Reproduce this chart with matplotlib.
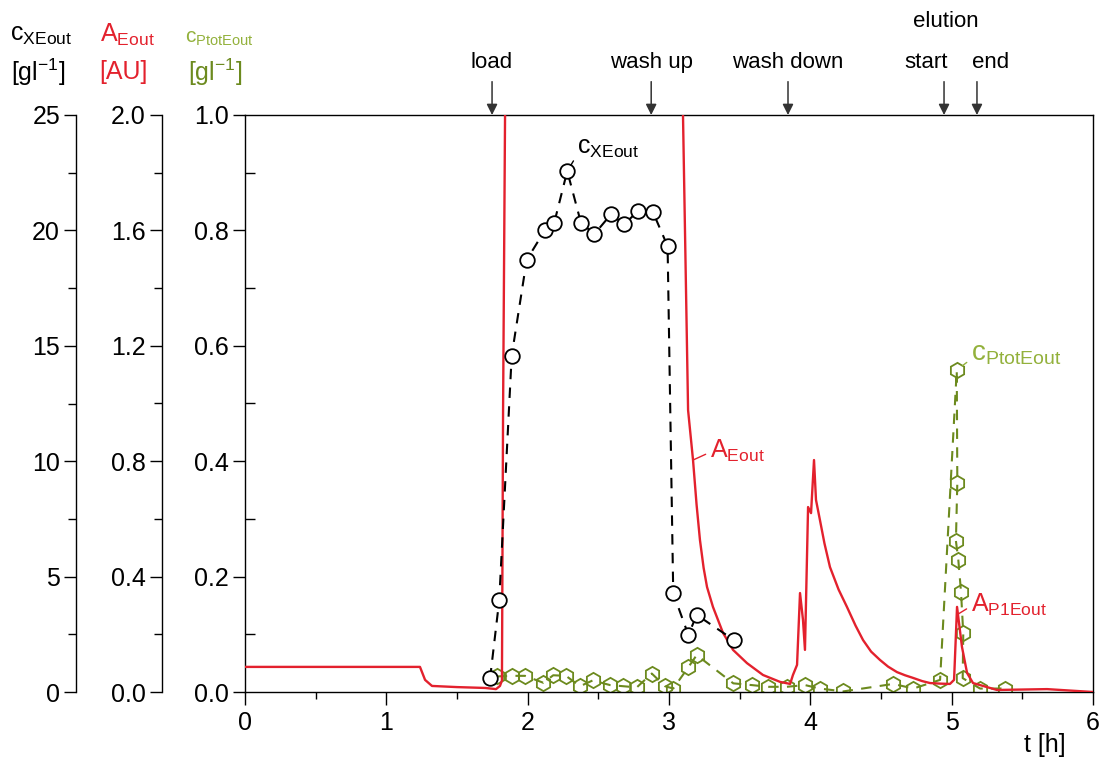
import matplotlib
matplotlib.use("Agg")
import matplotlib.pyplot as plt
from matplotlib.ticker import MultipleLocator, FormatStrFormatter
from matplotlib.transforms import blended_transform_factory

plt.rcParams['font.family'] = ['Liberation Sans', 'DejaVu Sans']
plt.rcParams['mathtext.default'] = 'regular'

# ── Colours ───────────────────────────────────────────────
RED       = '#e3212d'
GREEN     = '#6c8a1e'
GREEN_TXT = '#93b13c'
ARROW     = '#333333'

# ── Data ──────────────────────────────────────────────────
# UV absorbance at column outlet, A_Eout [AU]
t_A = [0.0, 1.238, 1.274, 1.323, 1.50, 1.70, 1.776, 1.804, 1.818, 1.826,
       1.840, 1.850, 3.090, 3.099, 3.135, 3.170, 3.195, 3.219, 3.245,
       3.269, 3.311, 3.382, 3.453, 3.552, 3.665, 3.786, 3.857, 3.877,
       3.906, 3.927, 3.948, 3.962, 3.984, 4.005, 4.026, 4.040, 4.068,
       4.100, 4.139, 4.200, 4.259, 4.320, 4.373, 4.430, 4.493, 4.550,
       4.613, 4.670, 4.726, 4.790, 4.847, 4.920, 4.988, 5.017, 5.038,
       5.073, 5.109, 5.151, 5.321, 5.675, 6.0]
A_Eout = [0.087, 0.087, 0.042, 0.021, 0.017, 0.014, 0.010, 0.021, 0.040,
          0.977, 2.0, 2.6, 2.6, 2.0, 0.977, 0.804, 0.650, 0.527, 0.430,
          0.364, 0.295, 0.205, 0.146, 0.100, 0.059, 0.035, 0.028, 0.059,
          0.094, 0.343, 0.250, 0.146, 0.641, 0.620, 0.804, 0.666, 0.596,
          0.515, 0.433, 0.355, 0.295, 0.230, 0.180, 0.140, 0.111, 0.088,
          0.069, 0.058, 0.049, 0.038, 0.031, 0.029, 0.028, 0.042, 0.295,
          0.156, 0.066, 0.031, 0.007, 0.010, 0.0]

# biomass concentration at outlet, c_XEout [g/l]
t_X = [1.734, 1.799, 1.887, 1.993, 2.123, 2.188, 2.280, 2.377, 2.472,
       2.590, 2.682, 2.783, 2.885, 2.990, 3.030, 3.137, 3.196, 3.460]
c_XEout = [0.59, 3.99, 14.57, 18.72, 20.02, 20.33, 22.57, 20.33, 19.84,
           20.70, 20.26, 20.85, 20.81, 19.32, 4.28, 2.47, 3.34, 2.25]

# total protein at outlet, c_PtotEout [g/l]
t_P = [1.781, 1.887, 1.981, 2.111, 2.181, 2.271, 2.370, 2.460, 2.583,
       2.677, 2.772, 2.878, 2.972, 3.030, 3.137, 3.196, 3.455, 3.585,
       3.703, 3.833, 3.962, 4.068, 4.233, 4.587, 4.729, 4.918, 5.036,
       5.040, 5.030, 5.047, 5.066, 5.082, 5.078, 5.201, 5.378]
c_PtotEout = [0.027, 0.028, 0.028, 0.016, 0.029, 0.028, 0.010, 0.020,
              0.012, 0.010, 0.008, 0.032, 0.010, 0.006, 0.043, 0.064,
              0.015, 0.012, 0.009, 0.009, 0.012, 0.006, 0.001, 0.014,
              0.006, 0.021, 0.558, 0.363, 0.262, 0.229, 0.174, 0.102,
              0.024, 0.006, 0.006]

# process phases marked on top
event_names = ['load', 'wash up', 'wash down', 'start', 'end']
event_t     = [1.748, 2.874, 3.842, 4.946, 5.179]
label_shift = [0, 0, 0, -13, 10]   # label x-shift vs arrow (pt)

# ── Figure / axes ─────────────────────────────────────────
W, H = 1103, 762
fig = plt.figure(figsize=(W / 100, H / 100), dpi=100)
ax = fig.add_axes([245 / W, 1 - 692 / H, (1093 - 245) / W, 577 / H])
ax_a = ax.twinx()
ax_x = ax.twinx()

for a in (ax, ax_a, ax_x):
    for s in a.spines.values():
        s.set_linewidth(1.0)

for a, off in ((ax_a, 59.8), (ax_x, 121.7)):
    for side in ('top', 'bottom', 'right'):
        a.spines[side].set_visible(False)
    a.spines['left'].set_visible(True)
    a.spines['left'].set_position(('outward', off))
    a.yaxis.set_ticks_position('left')
    a.yaxis.set_label_position('left')

ax.set_xlim(0, 6)
ax.set_ylim(0, 1.0)
ax_a.set_ylim(0, 2.0)
ax_x.set_ylim(0, 25)

ax.xaxis.set_major_locator(MultipleLocator(1))
ax.xaxis.set_minor_locator(MultipleLocator(0.5))
ax.yaxis.set_major_locator(MultipleLocator(0.2))
ax.yaxis.set_minor_locator(MultipleLocator(0.1))
ax.yaxis.set_major_formatter(FormatStrFormatter('%.1f'))
ax_a.yaxis.set_major_locator(MultipleLocator(0.4))
ax_a.yaxis.set_minor_locator(MultipleLocator(0.2))
ax_a.yaxis.set_major_formatter(FormatStrFormatter('%.1f'))
ax_x.yaxis.set_major_locator(MultipleLocator(5))
ax_x.yaxis.set_minor_locator(MultipleLocator(2.5))

TICK_FS = 18
ax.tick_params(axis='x', which='major', direction='out', length=9,
               width=1, labelsize=TICK_FS, pad=5)
ax.tick_params(axis='x', which='minor', direction='out', length=5, width=1)
ax.tick_params(axis='y', which='major', direction='out', length=8.5,
               width=1, labelsize=TICK_FS, pad=3)
ax.tick_params(axis='y', which='minor', direction='in', length=7, width=1)
for a in (ax_a, ax_x):
    a.tick_params(axis='y', which='major', direction='out', length=8.5,
                  width=1, labelsize=TICK_FS, pad=3)
    a.tick_params(axis='y', which='minor', direction='out', length=6,
                  width=1)

# ── Series ────────────────────────────────────────────────
ax.plot(t_P, c_PtotEout, color=GREEN, lw=1.5, dashes=(5, 4),
        marker='h', ms=11, mfc='none', mec=GREEN, mew=1.3)
ax_a.plot(t_A, A_Eout, color=RED, lw=1.7)
ax_x.plot(t_X, c_XEout, color='black', lw=1.5, dashes=(5, 4),
          marker='o', ms=10.5, mfc='white', mec='black', mew=1.3)

# ── In-plot labels ────────────────────────────────────────
LBL_FS = 18
ax_x.annotate('$c_{XEout}$', xy=(t_X[6], c_XEout[6]),
              xytext=(7, 8), textcoords='offset points', fontsize=LBL_FS,
              ha='left', va='bottom',
              arrowprops=dict(arrowstyle='-', color='black', lw=1,
                              relpos=(0, 0.2), shrinkA=1, shrinkB=5))
ax_a.annotate('$A_{Eout}$', xy=(3.170, 0.804),
              xytext=(12, -3), textcoords='offset points', fontsize=LBL_FS,
              color=RED, ha='left', va='bottom',
              arrowprops=dict(arrowstyle='-', color=RED, lw=1,
                              relpos=(0, 0.45), shrinkA=1, shrinkB=0))
ax_a.annotate('$A_{P1Eout}$', xy=(5.045, 0.27),
              xytext=(9, -3), textcoords='offset points', fontsize=LBL_FS,
              color=RED, ha='left', va='bottom',
              arrowprops=dict(arrowstyle='-', color=RED, lw=1,
                              relpos=(0, 0.45), shrinkA=1, shrinkB=0))
ax.annotate('$c_{PtotEout}$', xy=(t_P[26], c_PtotEout[26]),
            xytext=(10, 2), textcoords='offset points', fontsize=20,
            color=GREEN_TXT, ha='left', va='bottom',
            arrowprops=dict(arrowstyle='-', color=GREEN_TXT, lw=1,
                            relpos=(0, 0.3), shrinkA=1, shrinkB=5))

# ── Phase arrows on top ───────────────────────────────────
trans = blended_transform_factory(ax.transData, ax.transAxes)
for name, t, dx in zip(event_names, event_t, label_shift):
    ax.annotate('', xy=(t, 1.0), xycoords=trans,
                xytext=(0, 24), textcoords='offset points',
                arrowprops=dict(arrowstyle='-|>', color=ARROW, lw=1.1,
                                mutation_scale=16, shrinkA=0, shrinkB=0))
    ax.annotate(name, xy=(t, 1.0), xycoords=trans,
                xytext=(dx, 38), textcoords='offset points',
                ha='center', va='center', fontsize=16)
ax.annotate('elution', xy=(event_t[3], 1.0), xycoords=trans,
            xytext=(1, 67), textcoords='offset points',
            ha='center', va='center', fontsize=16)

# ── Axis headers ──────────────────────────────────────────
def ftext(x, y, s, fs=18, **kw):
    fig.text(x / W, 1 - y / H, s, ha='center', va='center',
             fontsize=fs, **kw)

ftext(41, 35, '$c_{XEout}$')
ftext(38, 72, '[gl$^{-1}$]')
ftext(127, 35, '$A_{Eout}$', color=RED)
ftext(123, 72, '[AU]', color=RED)
ftext(219, 38, '$c_{PtotEout}$', fs=15, color=GREEN_TXT)
ftext(215, 72, '[gl$^{-1}$]', color=GREEN)
ftext(1045, 745, 't [h]')

fig.savefig('out.png', dpi=100)
